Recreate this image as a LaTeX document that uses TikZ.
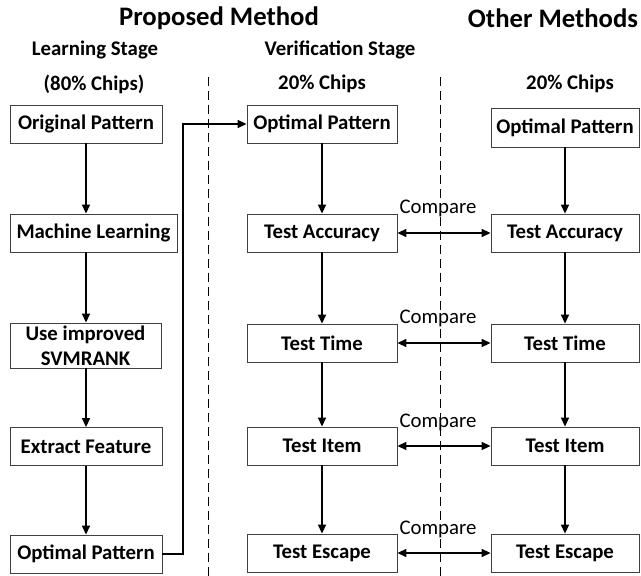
\documentclass[tikz,border=0pt]{standalone}
\usepackage{fontspec}
\setmainfont{Carlito}
\usetikzlibrary{arrows.meta}
\begin{document}
\begin{tikzpicture}[x=1pt,y=-1pt,
  box/.style={draw=black!75, line width=0.8pt, inner sep=0pt, minimum height=38pt,
    font=\fontsize{20.8}{25}\selectfont\bfseries, align=center},
  title/.style={font=\fontsize{26.7}{30}\selectfont\bfseries, inner sep=0pt},
  head/.style={font=\fontsize{20.8}{25}\selectfont\bfseries, inner sep=0pt},
  cmp/.style={font=\fontsize{20.8}{25}\selectfont, inner sep=0pt},
  arr/.style={line width=1.4pt, -{Triangle[length=9pt,width=8pt]}},
  darr/.style={line width=1.4pt, {Triangle[length=9pt,width=8pt]}-{Triangle[length=9pt,width=8pt]}},
  sep/.style={line width=0.9pt, dash pattern=on 9pt off 5pt}]
\useasboundingbox (0,0) rectangle (641,576);

% headings
\node[title] (t1) at (219,18) {Proposed Method};
\node[title] (t2) at (553,18) {Other Methods};
\node[head] (h1) at (95,50) {Learning Stage};
\node[head] (h2) at (340,50) {Verification Stage};
\node[head] (h3) at (94,84) {(80\% Chips)};
\node[head] (h4) at (322,84) {20\% Chips};
\node[head] (h5) at (570,84) {20\% Chips};

% separators
\coordinate (s1a) at (208,77); \coordinate (s1b) at (208,576);
\coordinate (s2a) at (440,77); \coordinate (s2b) at (440,576);
\draw[sep] (s1a) -- (s1b);
\draw[sep] (s2a) -- (s2b);

% left column
\node[box, minimum width=152pt] (l1) at (86,124) {Original Pattern};
\node[box, minimum width=167pt] (l2) at (93.5,233) {Machine Learning};
\node[box, minimum width=151pt, minimum height=45pt] (l3) at (85.5,345.5) {Use improved\\SVMRANK};
\node[box, minimum width=152pt] (l4) at (86,446.5) {Extract Feature};
\node[box, minimum width=152pt] (l5) at (86,554) {Optimal Pattern};

% middle column
\node[box, minimum width=150pt] (m1) at (322,124) {Optimal Pattern};
\node[box, minimum width=150pt] (m2) at (322,233) {Test Accuracy};
\node[box, minimum width=150pt] (m3) at (322,343) {Test Time};
\node[box, minimum width=150pt] (m4) at (322,446) {Test Item};
\node[box, minimum width=150pt] (m5) at (322,553) {Test Escape};

% right column
\node[box, minimum width=148pt, minimum height=39pt] (r1) at (565,127.5) {Optimal Pattern};
\node[box, minimum width=148pt] (r2) at (565,233) {Test Accuracy};
\node[box, minimum width=148pt] (r3) at (565,343) {Test Time};
\node[box, minimum width=148pt] (r4) at (565,446) {Test Item};
\node[box, minimum width=148pt] (r5) at (565,553) {Test Escape};

% vertical arrows
\draw[arr] (l1.south) -- (l1.south |- l2.north);
\draw[arr] (l1.south |- l2.south) -- (l1.south |- l3.north);
\draw[arr] (l1.south |- l3.south) -- (l1.south |- l4.north);
\draw[arr] (l4.south) -- (l5.north);
\foreach \a/\b in {m1/m2,m2/m3,m3/m4,m4/m5,r1/r2,r2/r3,r3/r4,r4/r5}
  \draw[arr] (\a.south) -- (\b.north);

% transfer connector
\coordinate (bend) at (183,554);
\draw[arr] (l5.east) -- (bend) |- (m1.west);

% compare arrows
\foreach \i/\y in {2/208,3/318,4/422,5/529}{
  \draw[darr] (m\i.east) -- (r\i.west);
  \node[cmp] (c\i) at (438,\y) {Compare};
}
\end{tikzpicture}
\end{document}
